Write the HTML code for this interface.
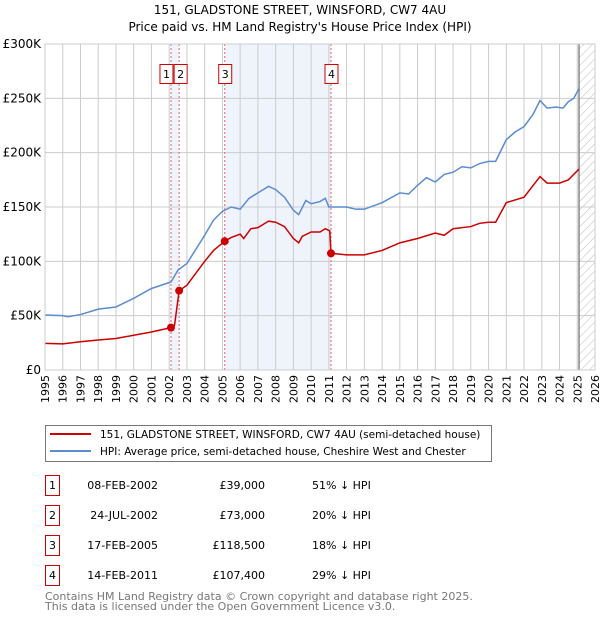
<!DOCTYPE html>
<html><head><meta charset="utf-8"><style>
body{margin:0;background:#fff;font-family:"DejaVu Sans","Liberation Sans",sans-serif;}
svg text{font-family:"DejaVu Sans","Liberation Sans",sans-serif;}
</style></head><body>
<svg id="chart" width="600" height="620" xmlns="http://www.w3.org/2000/svg">
<defs><pattern id="hatch" width="6" height="6" patternUnits="userSpaceOnUse" patternTransform="rotate(45)"><line x1="0" y1="0" x2="0" y2="6" stroke="#bbb" stroke-width="1"/></pattern></defs>
<text x="300" y="14" text-anchor="middle" font-size="12" fill="#000">151, GLADSTONE STREET, WINSFORD, CW7 4AU</text>
<text x="300" y="31" text-anchor="middle" font-size="12" fill="#000">Price paid vs. HM Land Registry's House Price Index (HPI)</text>
<g id="plot"></g>
<rect x="45.5" y="425.5" width="446" height="36" fill="#fff" stroke="#777"/>
<line x1="50" y1="434" x2="91" y2="434" stroke="#cc0000" stroke-width="2"/>
<text x="100" y="438" font-size="10.5">151, GLADSTONE STREET, WINSFORD, CW7 4AU (semi-detached house)</text>
<line x1="50" y1="451" x2="91" y2="451" stroke="#5b8bd0" stroke-width="2"/>
<text x="100" y="455" font-size="10.5">HPI: Average price, semi-detached house, Cheshire West and Chester</text>
<g id="table" font-size="11"></g>
<text x="45" y="600" font-size="11" fill="#777">Contains HM Land Registry data © Crown copyright and database right 2025.</text>
<text x="45" y="610" font-size="11" fill="#777">This data is licensed under the Open Government Licence v3.0.</text>
</svg>
<script>
const yTicks=[0,50,100,150,200,250,300];
const yTickLabels=["£0","£50K","£100K","£150K","£200K","£250K","£300K"];
const years=[1995,1996,1997,1998,1999,2000,2001,2002,2003,2004,2005,2006,2007,2008,2009,2010,2011,2012,2013,2014,2015,2016,2017,2018,2019,2020,2021,2022,2023,2024,2025,2026];
const hpiT=[1995,1996,1996.3,1997,1998,1999,2000,2001,2002.1,2002.5,2003,2004,2004.5,2005,2005.5,2006,2006.5,2007,2007.6,2008,2008.5,2009,2009.3,2009.7,2010,2010.5,2010.8,2011,2012,2012.5,2013,2014,2015,2015.5,2016,2016.5,2017,2017.5,2018,2018.5,2019,2019.5,2020,2020.4,2020.7,2021,2021.5,2022,2022.5,2022.9,2023.3,2023.8,2024.2,2024.5,2024.8,2025.1];
const hpiV=[50.6,50,49,51,56,58,66,75,81,92,98,124,138,146,150,148,158,163,169,166,159,147,143,156,153,155,158,150,150,148,148,154,163,162,170,177,173,180,182,187,186,190,192,192,202,212,219,224,235,248,241,242,241,247,250,259];
const priceT=[1995,1996,1997,1998,1999,2000,2001,2002.1,2002.3,2002.56,2003,2004,2004.5,2005.13,2005.5,2006,2006.2,2006.6,2007,2007.6,2008,2008.5,2009,2009.3,2009.5,2010,2010.5,2010.8,2011.05,2011.12,2012,2013,2014,2015,2016,2017,2017.5,2018,2019,2019.5,2020,2020.4,2021,2022,2022.9,2023.3,2024,2024.5,2025.1];
const priceV=[24.5,24,26,27.6,29,32,35,39,41,73,78,100,110,118.5,122,125,121,130,131,137,136,132,121,117,123,127,127,130,128,107.4,106,106,110,117,121,126,124,130,132,135,136,136,154,159,178,172,172,175,185];
const saleLabels=["1","2","3","4"];
const saleT=[2002.1,2002.56,2005.13,2011.12];
const saleV=[39,73,118.5,107.4];
const saleDates=["08-FEB-2002","24-JUL-2002","17-FEB-2005","14-FEB-2011"];
const salePrices=["£39,000","£73,000","£118,500","£107,400"];
const salePct=["51% ↓ HPI","20% ↓ HPI","18% ↓ HPI","29% ↓ HPI"];
const X0=45,X1=595,Y0=370,Y1=44,T0=1995,T1=2026,VMAX=300;
const xs=t=>X0+(t-T0)/(T1-T0)*(X1-X0);
const ys=v=>Y0-v/VMAX*(Y0-Y1);
const NS="http://www.w3.org/2000/svg";
function mk(tag,attrs,parent,text){const e=document.createElementNS(NS,tag);for(const k in attrs)e.setAttribute(k,attrs[k]);if(text!==undefined)e.textContent=text;parent.appendChild(e);return e;}
const plot=document.getElementById('plot');
let s=mk('rect',{x:xs(saleT[0]),y:Y1,width:xs(saleT[1])-xs(saleT[0]),height:Y0-Y1,fill:'#eef3fc'},plot);


s=mk('rect',{x:xs(saleT[2]),y:Y1,width:xs(saleT[3])-xs(saleT[2]),height:Y0-Y1,fill:'#eef3fc'},plot);


s=mk('rect',{x:xs(2025.1),y:Y1,width:X1-xs(2025.1),height:Y0-Y1,fill:'url(#hatch)'},plot);


years.forEach(y=>{const l=mk('line',{x1:xs(y),x2:xs(y),y1:Y1,y2:Y0,stroke:'#ccc'},plot);


const t=mk('text',{x:0,y:0,'font-size':11,'text-anchor':'end',transform:`translate(${xs(y)+4},${Y0+5}) rotate(-90)`},plot,String(y));

});
yTicks.forEach((v,i)=>{const l=mk('line',{x1:X0,x2:X1,y1:ys(v),y2:ys(v),stroke:'#ccc'},plot);


const t=mk('text',{x:X0-4,y:ys(v)+4,'font-size':12,'text-anchor':'end'},plot,yTickLabels[i]);

});
let ln=mk('line',{x1:xs(2025.1),x2:xs(2025.1),y1:Y1,y2:Y0,stroke:'#888','stroke-width':1.5},plot);


saleT.forEach((t,i)=>{const l=mk('line',{x1:xs(t),x2:xs(t),y1:Y1,y2:Y0,stroke:'#e06666','stroke-dasharray':'2,2'},plot);

});
const hp=mk('polyline',{points:hpiT.map((t,i)=>xs(t)+','+ys(hpiV[i])).join(' '),fill:'none',stroke:'#5b8bd0','stroke-width':1.5},plot);


const pp=mk('polyline',{points:priceT.map((t,i)=>xs(t)+','+ys(priceV[i])).join(' '),fill:'none',stroke:'#cc0000','stroke-width':1.5},plot);


saleT.forEach((t,i)=>{const c=mk('circle',{cx:xs(t),cy:ys(saleV[i]),r:4,fill:'#cc0000'},plot);


const off=i===0?-5:(i===1?1:0);
const bx=xs(t)+off-6;
const r=mk('rect',{x:bx,y:64.5,width:13,height:19,fill:'#fff',stroke:'#cc0000'},plot);


const tx=mk('text',{x:bx+6.5,y:78,'font-size':11,'text-anchor':'middle'},plot,saleLabels[i]);

});
const fr=mk('rect',{x:X0,y:Y1,width:X1-X0,height:Y0-Y1,fill:'none',stroke:'#ccc'},plot);


const tb=document.getElementById('table');
saleLabels.forEach((lab,i)=>{const y=475+i*30;
const r=mk('rect',{x:45.5,y:y+0.5,width:14,height:20,fill:'#fff',stroke:'#cc0000'},tb);


let t=mk('text',{x:52.5,y:y+14,'text-anchor':'middle'},tb,lab);


t=mk('text',{x:158,y:y+14,'text-anchor':'end'},tb,saleDates[i]);


t=mk('text',{x:265,y:y+14,'text-anchor':'end'},tb,salePrices[i]);


t=mk('text',{x:312,y:y+14},tb,salePct[i]);

});
</script>
</body></html>
